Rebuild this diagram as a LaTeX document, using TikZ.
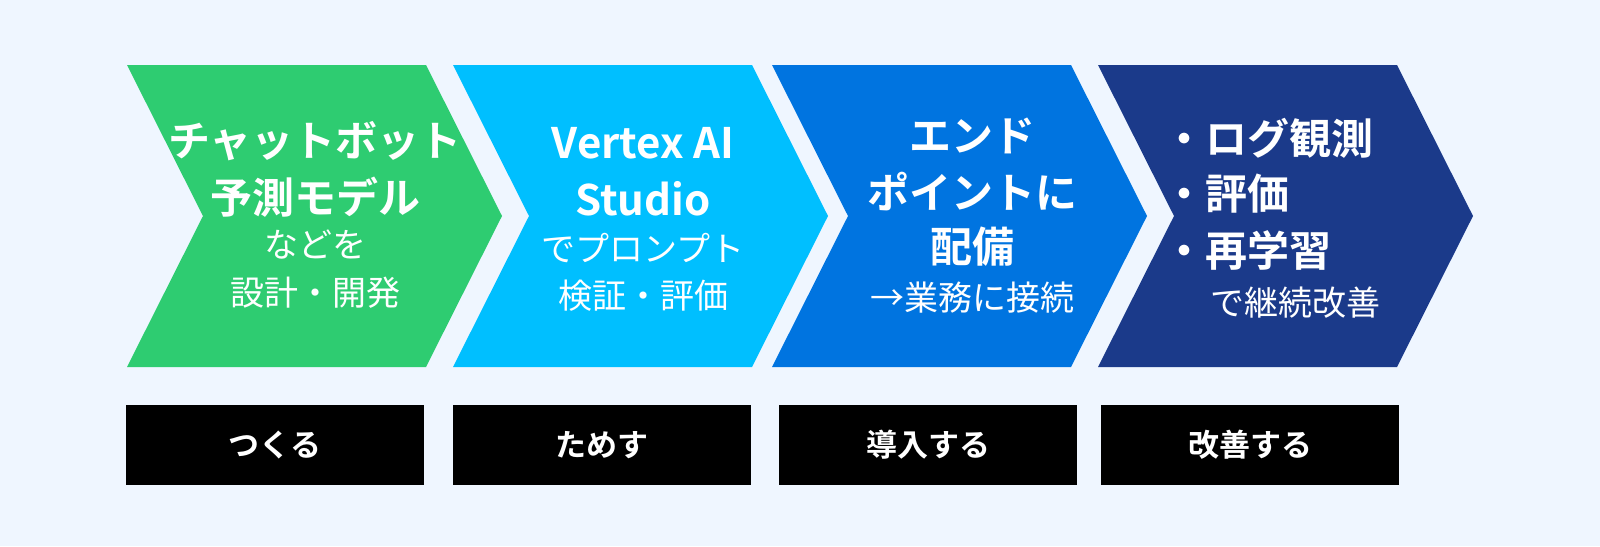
\documentclass[tikz,border=0pt]{standalone}
\usepackage{fontspec}
\setmainfont{Noto Sans CJK JP}[BoldFont={Noto Sans CJK JP Bold}]
\usepackage{xcolor}
\usepackage{tikz}

\definecolor{bgblue}{HTML}{EFF6FF}
\definecolor{stepgreen}{HTML}{2ECC71}
\definecolor{stepcyan}{HTML}{00BFFF}
\definecolor{stepblue}{HTML}{0074E0}
\definecolor{stepnavy}{HTML}{1B3A8A}

% chevron: left x, colour
\newcommand{\chevron}[2]{%
  \fill[#2] (#1,65) -- ++(299,0) -- ++(76,151) -- ++(-76,151) -- ++(-299,0) -- ++(76,-151) -- cycle;}

\tikzset{
  head/.style={inner sep=0pt, text=white, font=\fontsize{42}{42}\selectfont\bfseries},
  sub/.style={inner sep=0pt, text=white, font=\fontsize{34}{34}\selectfont},
  tagbox/.style={fill=black, minimum width=298pt, minimum height=80pt, inner sep=0pt,
    text=white, font=\fontsize{31}{31}\selectfont\bfseries},
}

\begin{document}
\begin{tikzpicture}[x=1pt,y=-1pt]
\fill[bgblue] (0,0) rectangle (1600,546);
\useasboundingbox (0,0) rectangle (1600,546);

\chevron{127}{stepgreen}
\chevron{453}{stepcyan}
\chevron{772}{stepblue}
\chevron{1098}{stepnavy}

% build
\node[head] (g1) at (315,141) {チャットボット};
\node[head] (g2) at (315,197) {予測モデル};
\node[sub] (g3) at (315,245) {などを};
\node[sub] (g4) at (315,293) {設計・開発};

% try
\node[head] (c1) at (643,143) {Vertex AI};
\node[head] (c2) at (643,199) {Studio};
\node[sub] (c3) at (643,248) {でプロンプト};
\node[sub] (c4) at (643,296) {検証・評価};

% deploy
\node[head] (b1) at (972,136) {エンド};
\node[head] (b2) at (972,192) {ポイントに};
\node[head] (b3) at (972,247) {配備};
\node[sub] (b4) at (972,298) {→業務に接続};

% improve
\node[head,anchor=west] (n1) at (1163,138) {・ログ観測};
\node[head,anchor=west] (n2) at (1163,194) {・評価};
\node[head,anchor=west] (n3) at (1163,250) {・再学習};
\node[sub,anchor=west] (n4) at (1210,303) {で継続改善};

\node[tagbox] (t1) at (275,445) {つくる};
\node[tagbox] (t2) at (602,445) {ためす};
\node[tagbox] (t3) at (928,445) {導入する};
\node[tagbox] (t4) at (1250,445) {改善する};
\end{tikzpicture}
\end{document}
